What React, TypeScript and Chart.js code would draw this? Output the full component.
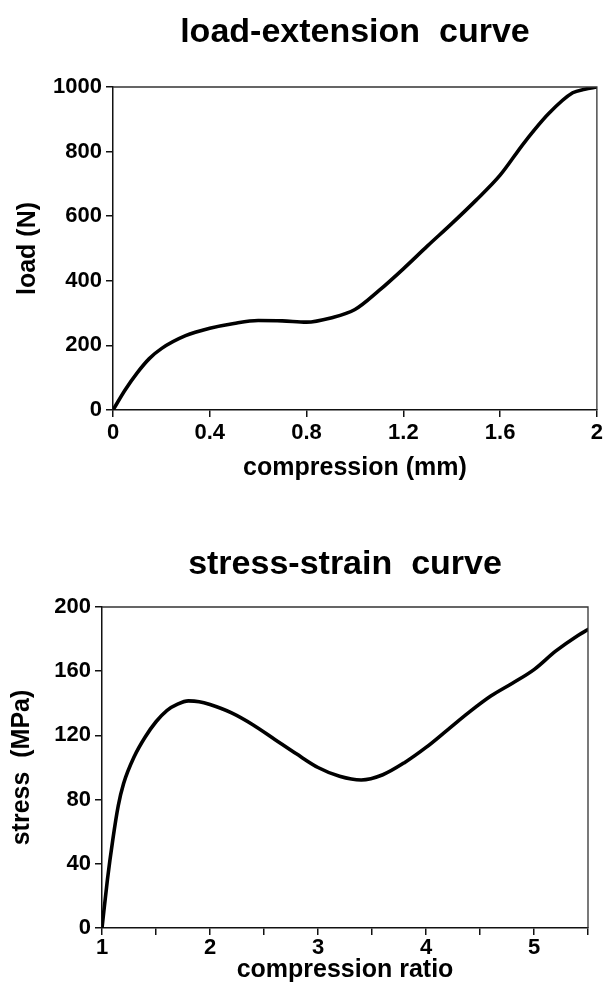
import React, { useEffect, useRef } from 'react';
import { Chart, registerables } from 'chart.js';

Chart.register(...registerables);

// Load-extension curve
const compressionMm = [0, 0.05, 0.1, 0.15, 0.2, 0.3, 0.4, 0.5, 0.6, 0.7, 0.8, 0.9, 1.0, 1.1, 1.2, 1.3, 1.4, 1.5, 1.6, 1.7, 1.8, 1.9, 1.95, 2.0];
const loadN = [0, 62, 115, 159, 190, 230, 253, 268, 277, 276, 272, 285, 311, 370, 437, 508, 577, 649, 727, 828, 917, 982, 993, 1000];
const loadTicks = { min: 0, max: 1000, step: 200 };
const mmTicks = { min: 0, max: 2, step: 0.4 };

// Stress-strain curve
const compressionRatio = [1.0, 1.05, 1.1, 1.15, 1.2, 1.3, 1.4, 1.5, 1.6, 1.7, 1.8, 1.9, 2.0, 2.2, 2.4, 2.6, 2.8, 3.0, 3.2, 3.4, 3.6, 3.8, 4.0, 4.2, 4.4, 4.6, 4.8, 5.0, 5.2, 5.4, 5.5];
const stressMPa = [0, 30, 55, 76, 90, 107, 119, 128.5, 135.5, 139.5, 141.5, 141, 139.2, 134, 126.5, 117.5, 108.5, 100, 94.5, 92.2, 95.5, 103, 112.5, 123.5, 134.5, 144.5, 152.5, 161, 172.5, 182, 186];
const stressTicks = { min: 0, max: 200, step: 40 };
const ratioTicks = { min: 1, max: 5.5, step: 0.5 };

const FONT = '"Liberation Sans", Arial, Helvetica, sans-serif';
const INK = '#000';
const AXIS = '#111';

// Closes the plot box on the top and right sides
const frame = {
  id: 'frame',
  afterDraw(chart: any) {
    const { ctx, chartArea } = chart;
    ctx.save();
    ctx.strokeStyle = '#333';
    ctx.lineWidth = 1.3;
    ctx.beginPath();
    ctx.moveTo(chartArea.left, chartArea.top);
    ctx.lineTo(chartArea.right, chartArea.top);
    ctx.lineTo(chartArea.right, chartArea.bottom);
    ctx.stroke();
    ctx.restore();
  },
};

type Cfg = {
  width: number;
  height: number;
  title: string;
  titlePad: { top: number; bottom: number };
  xs: number[];
  ys: number[];
  xTitle: string;
  yTitle: string;
  xRange: { min: number; max: number; step: number };
  yRange: { min: number; max: number; step: number };
  xLabel: (v: number) => string;
  yAxisWidth: number;
  yTitlePad: number;
  xAxisHeight: number;
  xTickPad: number;
  xTitlePadBottom: number;
  rightPad: number;
};

function CurveChart(props: Cfg) {
  const ref = useRef<HTMLCanvasElement | null>(null);
  useEffect(() => {
    if (!ref.current) return;
    const p = props;
    const chart = new Chart(ref.current, {
      type: 'line',
      data: {
        datasets: [
          {
            data: p.xs.map((x, i) => ({ x, y: p.ys[i] })),
            borderColor: INK,
            borderWidth: 3.6,
            pointRadius: 0,
            cubicInterpolationMode: 'monotone',
            borderCapStyle: 'round',
            borderJoinStyle: 'round',
            fill: false,
          },
        ],
      },
      options: {
        responsive: false,
        animation: false,
        devicePixelRatio: 1,
        layout: { padding: { left: 0, right: p.rightPad, top: 0, bottom: 0 } },
        plugins: {
          legend: { display: false },
          tooltip: { enabled: false },
          title: {
            display: true,
            text: p.title,
            fullSize: false,
            color: INK,
            font: { family: FONT, size: 34, weight: 'bold' },
            padding: p.titlePad,
          },
        },
        scales: {
          x: {
            type: 'linear',
            min: p.xRange.min,
            max: p.xRange.max,
            afterFit: (s: any) => {
              s.height = p.xAxisHeight;
            },
            ticks: {
              stepSize: p.xRange.step,
              autoSkip: false,
              maxRotation: 0,
              padding: p.xTickPad,
              color: INK,
              font: { family: FONT, size: 22, weight: 'bold' },
              callback: (v: any) => p.xLabel(Number(v)),
            },
            grid: { drawOnChartArea: false, drawTicks: true, tickLength: 7, color: AXIS, lineWidth: 1.5 },
            border: { display: true, color: AXIS, width: 1.5 },
            title: {
              display: true,
              text: p.xTitle,
              color: INK,
              font: { family: FONT, size: 25, weight: 'bold' },
              padding: { top: 0, bottom: p.xTitlePadBottom },
            },
          },
          y: {
            type: 'linear',
            min: p.yRange.min,
            max: p.yRange.max,
            afterFit: (s: any) => {
              s.width = p.yAxisWidth;
            },
            ticks: {
              stepSize: p.yRange.step,
              padding: 4,
              color: INK,
              font: { family: FONT, size: 22, weight: 'bold' },
              callback: (v: any) => String(v),
            },
            grid: { drawOnChartArea: false, drawTicks: true, tickLength: 7, color: AXIS, lineWidth: 1.5 },
            border: { display: true, color: AXIS, width: 1.5 },
            title: {
              display: true,
              text: p.yTitle,
              color: INK,
              font: { family: FONT, size: 25, weight: 'bold' },
              padding: { top: p.yTitlePad, bottom: 0 },
            },
          },
        },
      },
      plugins: [frame],
    } as any);
    return () => chart.destroy();
  }, []);
  return <canvas ref={ref} width={props.width} height={props.height} style={{ display: 'block' }} />;
}

export default function App() {
  return (
    <div style={{ position: 'absolute', left: 0, top: 0, width: 606, height: 993, background: '#fff' }}>
      <CurveChart
        width={606}
        height={490}
        title="load-extension  curve"
        titlePad={{ top: 12.6, bottom: 33.6 }}
        xs={compressionMm}
        ys={loadN}
        xTitle="compression (mm)"
        yTitle="load (N)"
        xRange={mmTicks}
        yRange={loadTicks}
        xLabel={(v) => String(Math.round(v * 10) / 10)}
        yAxisWidth={113}
        yTitlePad={13}
        xAxisHeight={80}
        xTickPad={3}
        xTitlePadBottom={7}
        rightPad={6}
      />
      <CurveChart
        width={606}
        height={503}
        title="stress-strain  curve"
        titlePad={{ top: 54.6, bottom: 21.6 }}
        xs={compressionRatio}
        ys={stressMPa}
        xTitle="compression ratio"
        yTitle="stress  (MPa)"
        xRange={ratioTicks}
        yRange={stressTicks}
        xLabel={(v) => (Number.isInteger(v) ? String(v) : '')}
        yAxisWidth={102}
        yTitlePad={7}
        xAxisHeight={65}
        xTickPad={0}
        xTitlePadBottom={8}
        rightPad={18}
      />
    </div>
  );
}
